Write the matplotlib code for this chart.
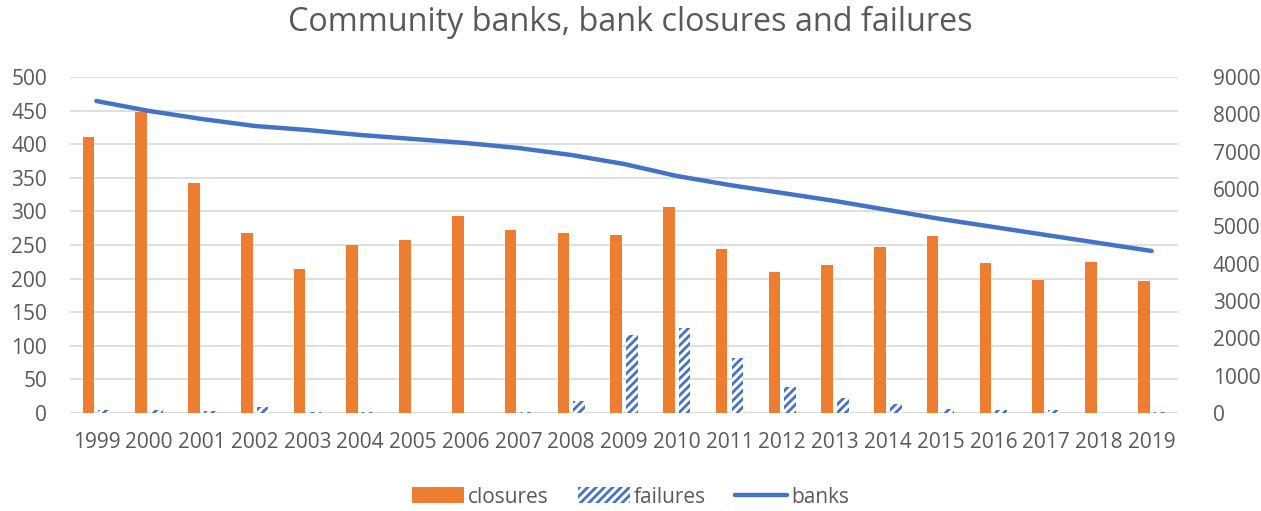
import matplotlib
matplotlib.use("Agg")
import matplotlib.pyplot as plt
import numpy as np

years = [str(y) for y in range(1999, 2020)]
closures = [411, 448, 342, 268, 214, 250, 257, 293, 272, 268, 265, 306, 244, 210, 220, 247, 263, 223, 198, 225, 196]
failures = [5, 5, 3, 9, 1, 2, 0, 0, 1, 18, 116, 126, 82, 39, 22, 13, 6, 4, 5, 0, 2]
banks = [8357, 8090, 7875, 7688, 7580, 7447, 7340, 7232, 7098, 6911, 6670, 6349, 6107, 5893, 5679, 5438, 5197, 4983, 4768, 4554, 4340]

plt.rcParams['font.family'] = ['Open Sans', 'DejaVu Sans']
plt.rcParams['hatch.linewidth'] = 2.0
GRAY = '#595959'
ORANGE = '#ED7D31'
BLUE = '#4472C4'

fig = plt.figure(figsize=(12.61, 5.11), dpi=100)
ax = fig.add_axes([70/1261, 1-413/511, 1108/1261, 336/511])
ax2 = ax.twinx()

x = np.arange(len(years))
w = 0.22
b1 = ax.bar(x - 0.15, closures, w, color=ORANGE, label='closures', zorder=3)
b2 = ax.bar(x + 0.15, failures, w, facecolor='white', edgecolor=BLUE, hatch='////', linewidth=0, label='failures', zorder=3)
l, = ax2.plot(x, banks, color=BLUE, linewidth=3.2, label='banks', solid_capstyle='round')

ax.set_xlim(-0.5, len(years) - 0.5)
ax.set_ylim(0, 500)
ax.set_yticks(range(0, 501, 50))
ax2.set_ylim(0, 9000)
ax2.set_yticks(range(0, 9001, 1000))
ax.set_xticks(x)
ax.set_xticklabels(years)

for a in (ax, ax2):
    for s in a.spines.values():
        s.set_visible(False)
    a.tick_params(length=0, labelsize=15, colors=GRAY)
ax.tick_params(axis='x', pad=14)
ax2.tick_params(axis='y', pad=25)
ax.tick_params(axis='y', pad=16.5)
ax.grid(axis='y', color='#D9D9D9', linewidth=1.2, zorder=0)
ax.set_axisbelow(True)
ax.axhline(0, color='#D9D9D9', linewidth=1.2, zorder=2)

fig.text(0.5, 1-22/511, 'Community banks, bank closures and failures', ha='center', va='center', fontsize=23.3, color=GRAY)

fig.legend([b1, b2, l], ['closures', 'failures', 'banks'], loc='center', bbox_to_anchor=(0.5, 1-497/511),
           ncol=3, frameon=False, fontsize=15, labelcolor=GRAY, handlelength=2.5, handleheight=0.8,
           columnspacing=1.4, handletextpad=0.2)

fig.savefig('out.png', dpi=100)
